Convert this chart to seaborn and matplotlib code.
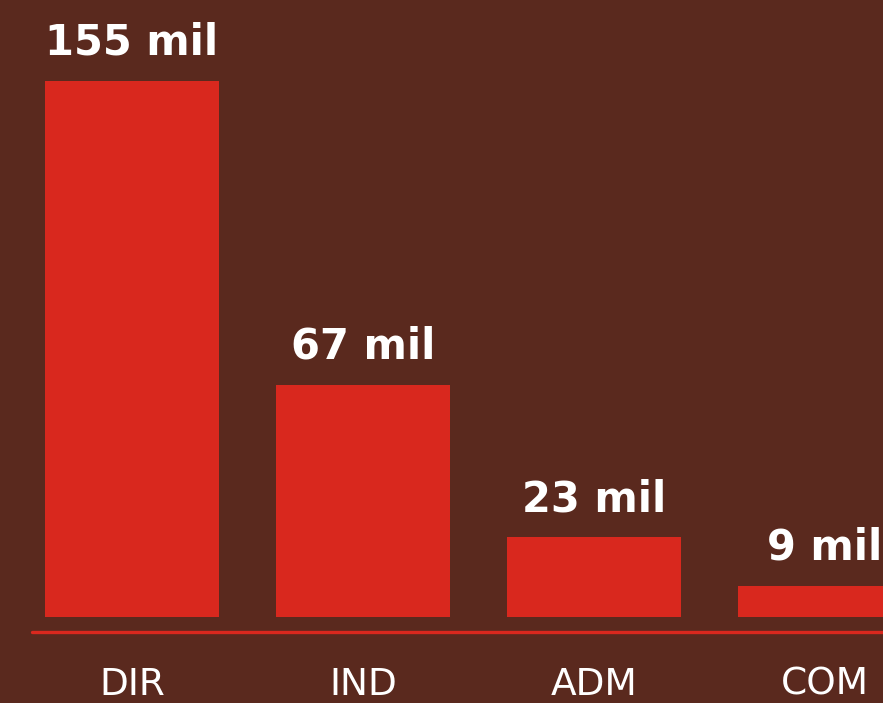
import pandas as pd
import seaborn as sns
import matplotlib.pyplot as plt

# chart data
categories = ["DIR", "IND", "ADM", "COM"]
values = [155, 67, 23, 9]
value_labels = ["155 mil", "67 mil", "23 mil", "9 mil"]

bg = "#5a291e"
red = "#d9281e"

df = pd.DataFrame({"cat": categories, "val": values})

sns.set_style("white", {"axes.facecolor": bg, "figure.facecolor": bg})

fig = plt.figure(figsize=(8.83, 7.03), dpi=100)
ax = fig.add_axes([0, 0, 1, 1])
sns.barplot(data=df, x="cat", y="val", color=red, width=0.753, saturation=1,
            linewidth=0, ax=ax)

ax.set_xlim(-0.571, 3.251)
ax.set_ylim(-24.87, 178.4)
ax.axis("off")

# baseline
ax.axhline(-4.2, xmin=32 / 883, xmax=1, color=red, lw=2.4)

# value labels above bars
for i, (v, lab) in enumerate(zip(values, value_labels)):
    ax.annotate(lab, (i, v), xytext=(0, 19), textcoords="offset points",
                ha="center", va="baseline", color="white", fontsize=30,
                fontweight="heavy", family="DejaVu Sans")

# category labels at bottom
for i, c in enumerate(categories):
    ax.text(i, 0.012, c, transform=ax.get_xaxis_transform(), ha="center",
            va="baseline", color="white", fontsize=27, family="DejaVu Sans",
            fontweight="normal")

fig.savefig("out.png", dpi=100, facecolor=bg)
